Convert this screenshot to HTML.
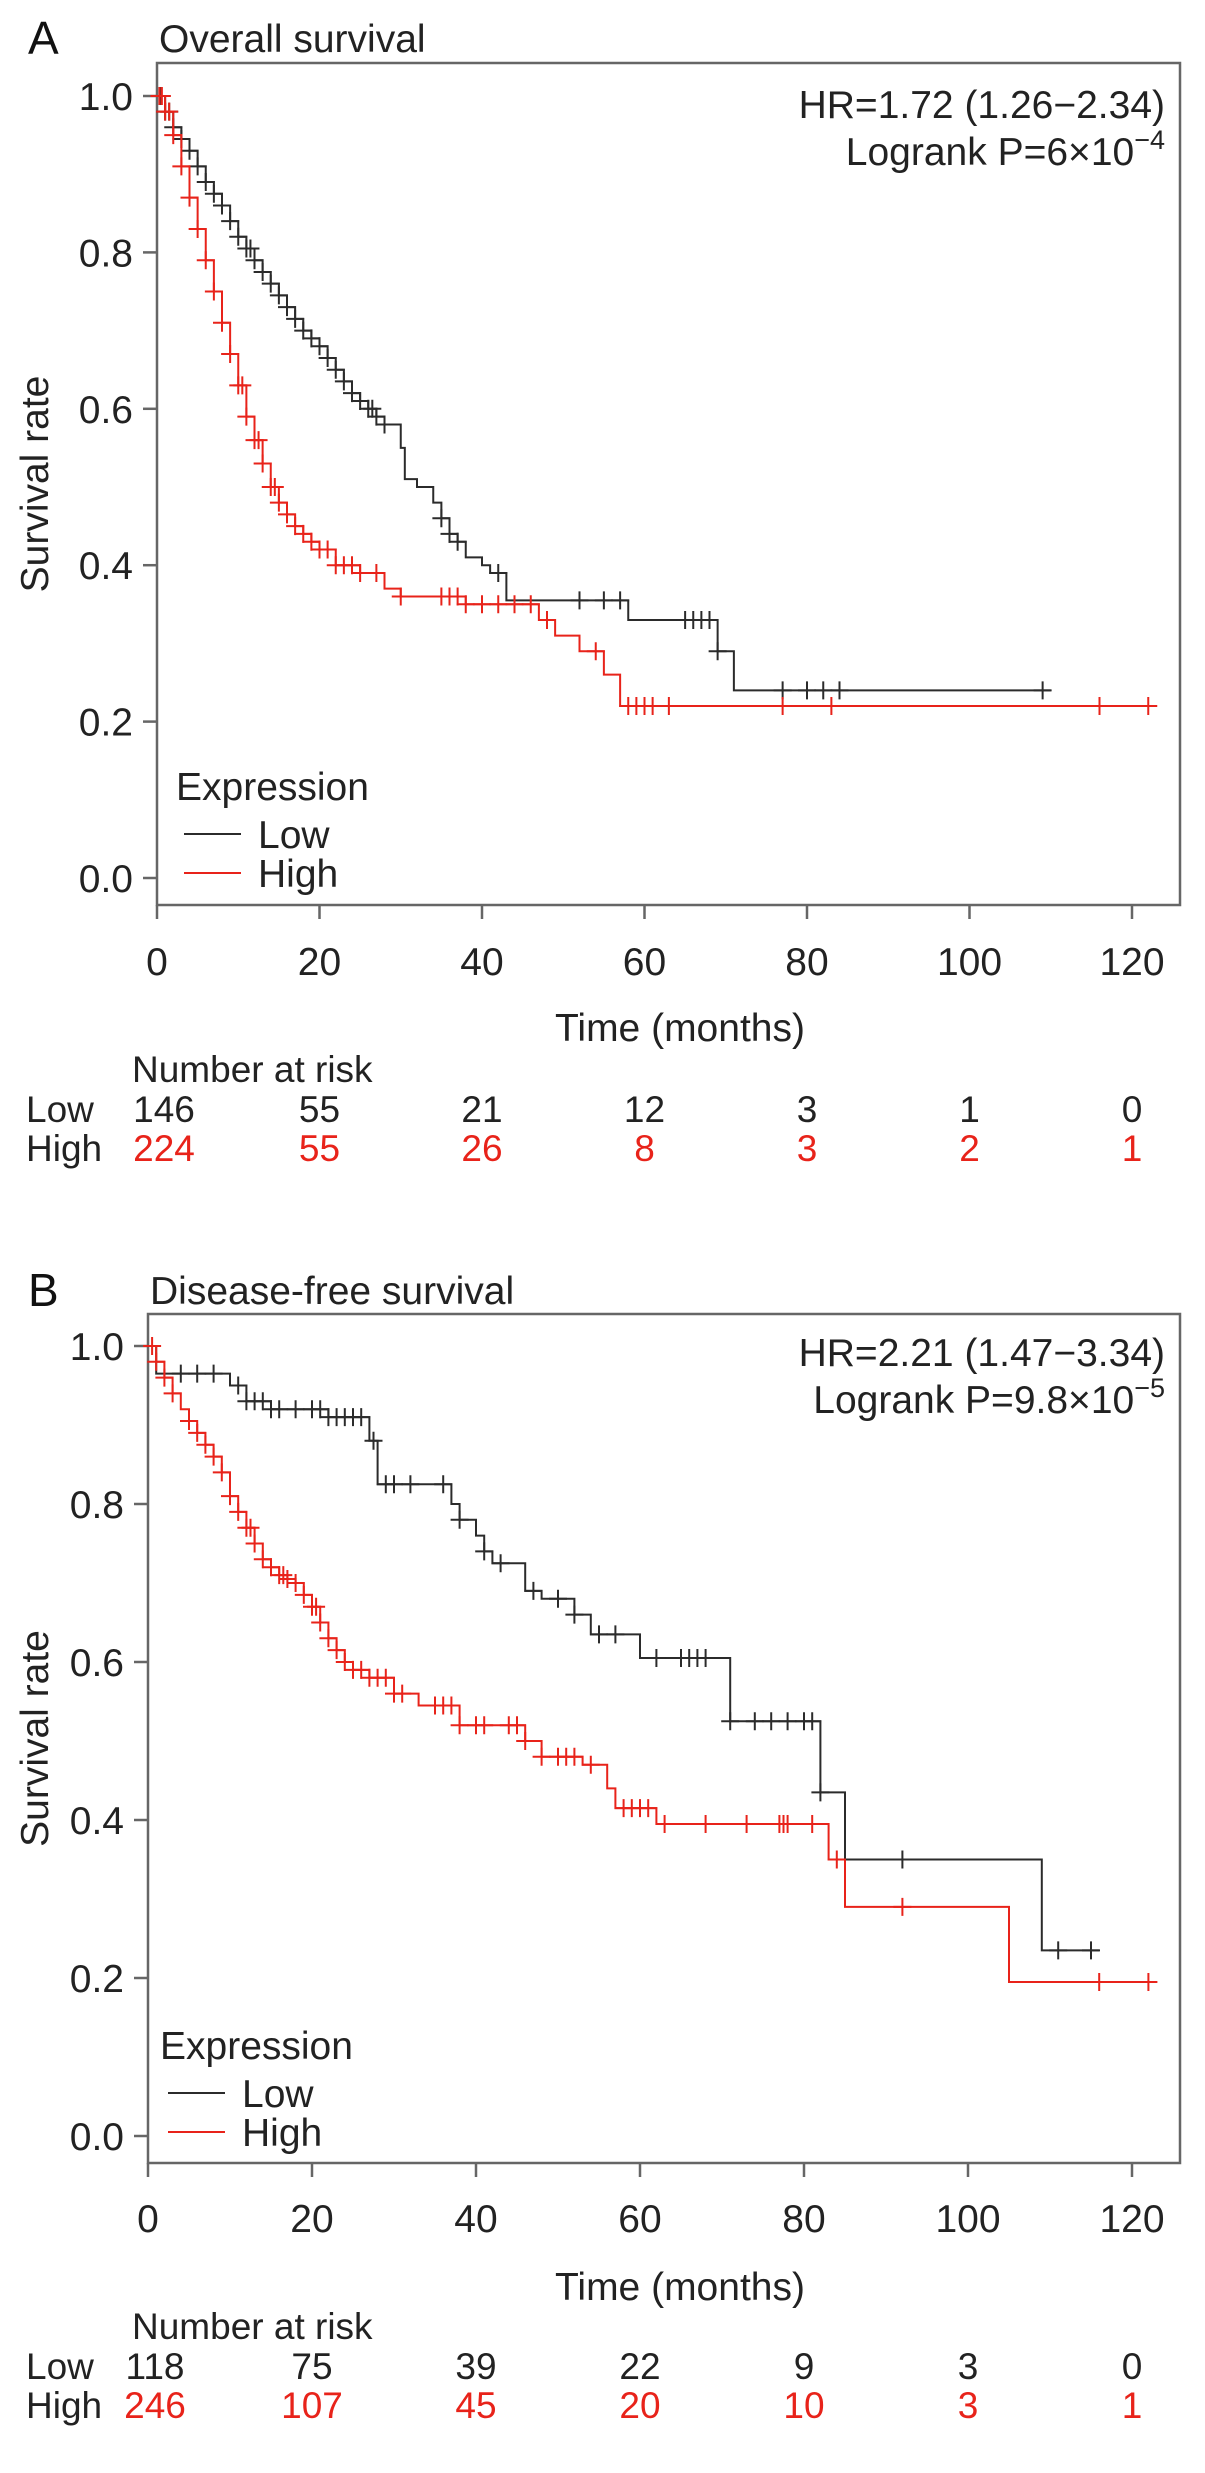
<!DOCTYPE html>
<html><head><meta charset="utf-8">
<style>
html,body{margin:0;padding:0;background:#fff;}
svg{display:block;font-family:"Liberation Sans",Arial,sans-serif;}
</style></head>
<body>
<svg id="fig" width="1205" height="2473" viewBox="0 0 1205 2473"></svg>
<script>
// ---- Panel A data (Overall survival) ----
const ticksX = [0,20,40,60,80,100,120];
const ticksY = [0,0.2,0.4,0.6,0.8,1.0];
const tickYLabels = ["0.0","0.2","0.4","0.6","0.8","1.0"];
const aLowT = [0,1,2,3,4,5,6,7,8,9,10,11,12,13,14,15,16,17,18,19,20,21,22,23,24,25,26,27,28,30,30.5,32,34,35,36,37,38,40,41,43,58,69,71,110];
const aLowS = [1.0,0.98,0.96,0.945,0.93,0.91,0.89,0.875,0.86,0.84,0.82,0.805,0.79,0.775,0.76,0.745,0.73,0.715,0.70,0.69,0.68,0.665,0.65,0.635,0.62,0.61,0.60,0.59,0.58,0.55,0.51,0.50,0.48,0.46,0.44,0.43,0.41,0.40,0.39,0.355,0.33,0.29,0.24,0.24];
const aHighT = [0,1,2,3,4,5,6,7,8,9,10,11,12,13,14,15,16,17,18,19,20,22,25,28,30,38,47,49,52,55,57,123];
const aHighS = [1.0,0.98,0.95,0.91,0.87,0.83,0.79,0.75,0.71,0.67,0.63,0.59,0.56,0.53,0.50,0.48,0.465,0.45,0.44,0.43,0.42,0.40,0.39,0.37,0.36,0.35,0.33,0.31,0.29,0.26,0.22,0.22];
const aLowCens = [0.5,1,1.5,2,3,4,5,6,7,8,9,10,11,11.5,12,13,14,15,16,17,18,19,20,21,22,23,24,25,26,26.5,27,28,35,36,37,42,52,55,57,65,66,67,68,69,77,80,82,84,109];
const aHighCens = [0.3,0.6,1,1.5,2,3,4,5,6,7,8,9,10,10.5,11,12,12.5,13,14,14.5,15,16,17,18,19,20,21,22,23,24,25,27,30,35,36,37,38,40,42,44,46,48,54,58,59,60,61,63,77,83,116,122];
const aRiskLow = [146,55,21,12,3,1,0];
const aRiskHigh = [224,55,26,8,3,2,1];
// ---- Panel B data (Disease-free survival) ----
const bLowT = [0,1,10,12,15,22,27,28,37,38,40,41,42,46,48,52,54,60,71,82,85,109,116];
const bLowS = [1.0,0.965,0.95,0.93,0.92,0.91,0.88,0.825,0.80,0.78,0.76,0.74,0.725,0.69,0.68,0.66,0.635,0.605,0.525,0.435,0.35,0.235,0.235];
const bLowCens = [4,6,8,11,12,13,14,15,16,18,20,21,22,23,24,25,26,27.5,29,30,32,36,38,41,43,47,50,52,55,57,62,65,66,67,68,71,74,76,78,80,81,82,92,111,115];
const bHighT = [0,1,2,3,4,5,6,7,8,9,10,11,12,13,14,15,16,17,18,19,20,21,22,23,24,25,27,30,33,38,46,48,53,56,57,62,83,85,105,123];
const bHighS = [1.0,0.98,0.96,0.94,0.92,0.905,0.89,0.875,0.86,0.84,0.81,0.79,0.77,0.75,0.73,0.72,0.71,0.705,0.70,0.685,0.67,0.65,0.63,0.615,0.60,0.59,0.58,0.56,0.545,0.52,0.50,0.48,0.47,0.44,0.415,0.395,0.35,0.29,0.195,0.195];
const bHighCens = [0.5,1,2,3,5,6,7,8,9,10,11,12,12.5,13,14,15,16,16.5,17,18,19,20,20.5,21,22,23,24,25,26,27,28,29,30,31,35,36,37,38,40,41,44,45,46,48,50,51,52,54,58,59,60,61,63,68,73,77,77.5,78,81,84,92,116,122];
const bRiskLow = [118,75,39,22,9,3,0];
const bRiskHigh = [246,107,45,20,10,3,1];

const NS = "http://www.w3.org/2000/svg";
const svg = document.getElementById('fig');
const BLACK = "#2b2b2b", RED = "#e8231a";
const FS = 39, RFS = 37;
function mk(tag, attrs, parent, txt){
  const e = document.createElementNS(NS, tag);
  for (const k in attrs) e.setAttribute(k, attrs[k]);
  if (txt !== undefined) e.textContent = txt;
  (parent||svg).appendChild(e);
  return e;
}
function survAt(T,S,t){ let s=S[0]; for(let i=0;i<T.length;i++){ if(T[i]<=t) s=S[i]; } return s; }

function panel(cfg){
  const g = mk('g',{});
  
  
  const xs = t => cfg.x0 + (cfg.x120 - cfg.x0) * t / 120;
  const ys = v => cfg.y0 + (cfg.y1 - cfg.y0) * v;
  const fr = mk('rect',{x:cfg.L,y:cfg.T,width:cfg.R-cfg.L,height:cfg.B-cfg.T,fill:'none',stroke:'#666','stroke-width':2.5},g);
   
  ticksX.forEach(t=>{
    const l = mk('line',{x1:xs(t),x2:xs(t),y1:cfg.B,y2:cfg.B+14,stroke:'#666','stroke-width':2.5},g);
     
    const tx = mk('text',{x:xs(t),y:cfg.xlabY,'font-size':FS,'text-anchor':'middle',fill:'#222'},g,String(t));
     
  });
  ticksY.forEach((v,i)=>{
    const l = mk('line',{x1:cfg.L-14,x2:cfg.L,y1:ys(v),y2:ys(v),stroke:'#666','stroke-width':2.5},g);
     
    const tx = mk('text',{x:cfg.L-24,y:ys(v)+14,'font-size':FS,'text-anchor':'end',fill:'#222'},g,tickYLabels[i]);
     
  });
  let t;
  t = mk('text',{x:cfg.letterX,y:cfg.titleY+2,'font-size':46,fill:'#111'},g,cfg.letter);
   
  t = mk('text',{x:cfg.L+2,y:cfg.titleY,'font-size':FS,fill:'#222'},g,cfg.title);
   
  const cy = (cfg.T+cfg.B)/2;
  t = mk('text',{x:0,y:0,'font-size':FS,'text-anchor':'middle',fill:'#222',transform:`translate(48,${cy}) rotate(-90)`},g,'Survival rate');
   
  t = mk('text',{x:680,y:cfg.xtitleY,'font-size':FS,'text-anchor':'middle',fill:'#222'},g,'Time (months)');
   
  t = mk('text',{x:cfg.R-15,y:cfg.hrY,'font-size':FS,'text-anchor':'end',fill:'#222'},g,cfg.hr);
   
  t = mk('text',{x:cfg.R-15,y:cfg.hrY+47,'font-size':FS,'text-anchor':'end',fill:'#222'},g);
   
  t.appendChild(document.createTextNode(cfg.p));
  mk('tspan',{dy:-16,'font-size':27},t,cfg.pexp);
  function series(T,S,cens,color,nm){
    let d = `M${xs(T[0])},${ys(S[0])}`;
    for(let i=1;i<T.length;i++){ d += ` H${xs(T[i])} V${ys(S[i])}`; }
    const p = mk('path',{d:d,fill:'none',stroke:color,'stroke-width':2},g);
     
    cens.forEach(c=>{
      const x = xs(c), y = ys(survAt(T,S,c));
      const m = mk('path',{d:`M${x-9},${y} H${x+9} M${x},${y-9} V${y+9}`,stroke:color,'stroke-width':2,fill:'none'},g);
       
    });
  }
  series(cfg.lowT,cfg.lowS,cfg.lowC,BLACK,'low-expression');
  series(cfg.highT,cfg.highS,cfg.highC,RED,'high-expression');
  const lg = mk('g',{},g);
   
  t = mk('text',{x:cfg.legX,y:cfg.legY,'font-size':FS,fill:'#222'},lg,'Expression');
   
  [['Low',BLACK,0],['High',RED,1]].forEach(([lab,col,i])=>{
    const yy = cfg.legY+34+i*39;
    const ln = mk('line',{x1:cfg.legX+8,x2:cfg.legX+65,y1:yy,y2:yy,stroke:col,'stroke-width':2},lg);
     
    const tt = mk('text',{x:cfg.legX+82,y:yy+14,'font-size':FS,fill:'#222'},lg,lab);
     
  });
  t = mk('text',{x:132,y:cfg.riskY,'font-size':RFS,fill:'#222'},g,'Number at risk');
   
  t = mk('text',{x:26,y:cfg.riskY+40,'font-size':RFS,fill:'#222'},g,'Low');
   
  t = mk('text',{x:26,y:cfg.riskY+79,'font-size':RFS,fill:'#222'},g,'High');
   
  ticksX.forEach((tk,i)=>{
    const cx = i===0 ? xs(tk)+7 : xs(tk);
    let a = mk('text',{x:cx,y:cfg.riskY+40,'font-size':RFS,'text-anchor':'middle',fill:'#222'},g,String(cfg.rLow[i]));
     
    a = mk('text',{x:cx,y:cfg.riskY+79,'font-size':RFS,'text-anchor':'middle',fill:RED},g,String(cfg.rHigh[i]));
     
  });
}

panel({name:'panel-a-overall-survival',letter:'A',title:'Overall survival',letterX:28,titleY:52,
  L:157,R:1180,T:63,B:905,x0:157,x120:1132,y0:878,y1:96,xlabY:975,xtitleY:1041,
  hr:'HR=1.72 (1.26\u22122.34)',p:'Logrank P=6\u00d710',pexp:'\u22124',hrY:118,
  legX:176,legY:800,riskY:1082,
  lowT:aLowT,lowS:aLowS,highT:aHighT,highS:aHighS,lowC:aLowCens,highC:aHighCens,
  rLow:aRiskLow,rHigh:aRiskHigh});
panel({name:'panel-b-disease-free-survival',letter:'B',title:'Disease-free survival',letterX:28,titleY:1304,
  L:148,R:1180,T:1314,B:2163,x0:148,x120:1132,y0:2136,y1:1346,xlabY:2232,xtitleY:2300,
  hr:'HR=2.21 (1.47\u22123.34)',p:'Logrank P=9.8\u00d710',pexp:'\u22125',hrY:1366,
  legX:160,legY:2059,riskY:2339,
  lowT:bLowT,lowS:bLowS,highT:bHighT,highS:bHighS,lowC:bLowCens,highC:bHighCens,
  rLow:bRiskLow,rHigh:bRiskHigh});
</script>
</body></html>
